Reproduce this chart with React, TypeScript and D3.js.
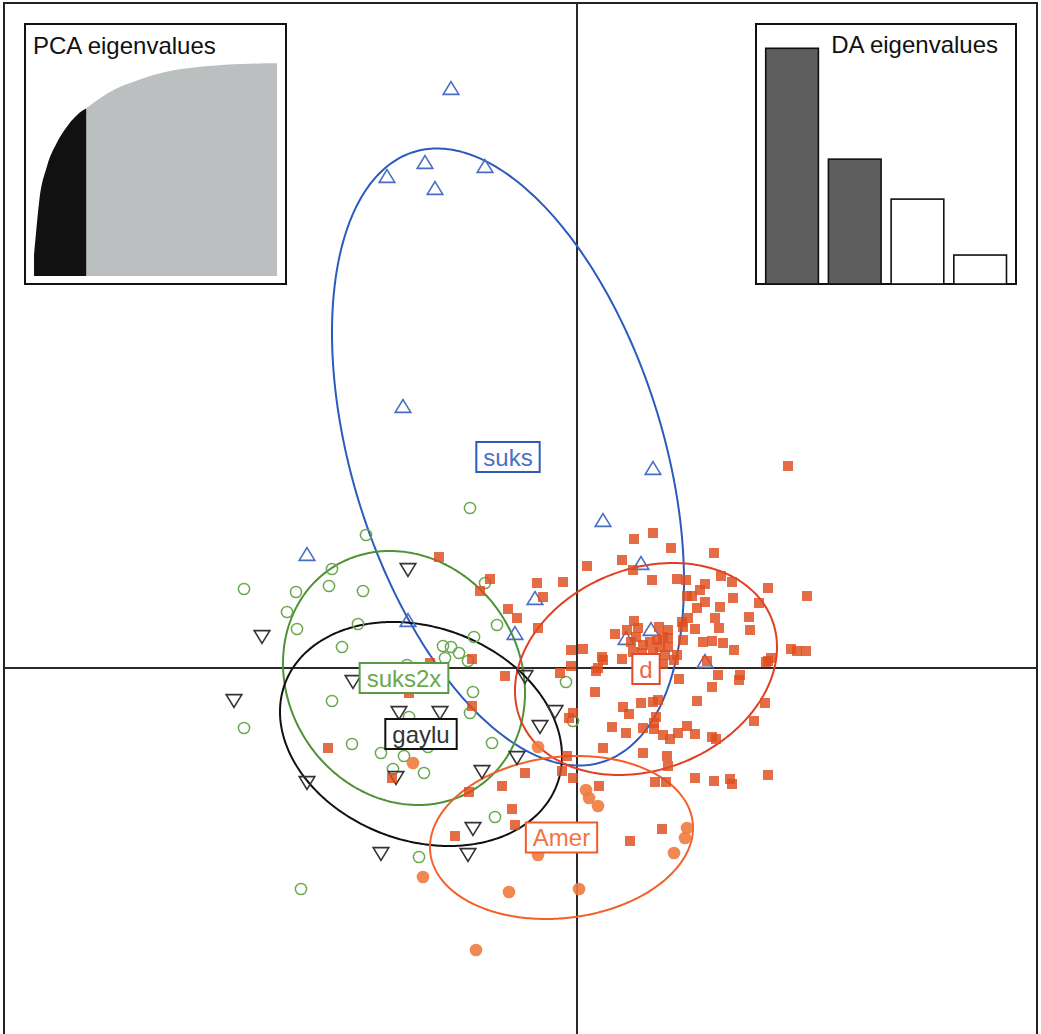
import React, { useEffect, useRef } from 'react';
import * as d3 from 'd3';

const W = 1041;
const H = 1034;

// Group names (in drawing order)
const groupNames = ['suks', 'suks2x', 'gaylu', 'd', 'Amer'];

// Individual scores on LD1 / LD2
const suksPts: [number, number][] = [
  [-1.26, 5.80], [-1.52, 5.06], [-0.92, 5.02], [-1.90, 4.92], [-1.42, 4.80],
  [-1.74, 2.62], [0.76, 2.00], [0.26, 1.48], [-2.70, 1.14], [0.64, 1.05],
  [-0.42, 0.70], [-1.69, 0.48], [-0.62, 0.35], [0.49, 0.30], [0.74, 0.39],
  [1.28, 0.07],
];

const gayluPts: [number, number][] = [
  [-1.69, 0.98], [-3.15, 0.31], [-2.24, -0.14], [-3.43, -0.33], [-0.52, -0.09],
  [-1.78, -0.45], [-1.37, -0.45], [-1.81, -1.10], [-2.70, -1.15], [-0.95, -1.04],
  [-0.60, -0.90], [-1.04, -1.61], [-1.96, -1.86], [-1.09, -1.87], [-0.22, -0.44],
  [-0.37, -0.59],
];

const suks2xPts: [number, number][] = [
  [-1.07, 1.60], [-2.11, 1.33], [-3.33, 0.79], [-2.81, 0.76], [-2.45, 0.99],
  [-2.48, 0.82], [-2.14, 0.77], [-2.90, 0.56], [-2.80, 0.39], [-2.19, 0.44],
  [-2.35, 0.21], [-0.92, 0.85], [-0.80, 0.43], [-1.03, 0.31], [-1.34, 0.22],
  [-1.26, 0.21], [-1.32, 0.10], [-1.18, 0.15], [-1.09, 0.07], [-1.70, 0.03],
  [-2.45, -0.33], [-1.04, -0.24], [-1.07, -0.45], [-1.68, -0.49], [-3.33, -0.60],
  [-2.25, -0.76], [-1.96, -0.85], [-1.73, -0.88], [-1.49, -0.79], [-1.84, -1.01],
  [-1.53, -1.05], [-0.85, -0.75], [-0.82, -1.49], [-1.58, -1.89], [-2.76, -2.21],
  [-0.11, -0.14], [-0.04, -0.53],
];

const amerPts: [number, number][] = [
  [-1.64, -0.95], [-1.54, -2.09], [-0.68, -2.24], [-1.01, -2.82], [-0.39, -0.79],
  [0.09, -1.22], [0.12, -1.30], [0.21, -1.38], [1.10, -1.60], [1.08, -1.70],
  [0.97, -1.85], [-0.39, -1.87], [0.02, -2.21],
];

const dPts: [number, number][] = [
  [2.11, 2.02], [0.76, 1.35], [0.57, 1.29], [0.94, 1.20], [1.37, 1.15],
  [0.45, 1.08], [0.10, 1.02], [0.56, 0.98], [0.75, 0.88], [1.00, 0.89],
  [1.09, 0.88], [1.44, 0.92], [1.28, 0.84], [1.23, 0.78], [1.55, 0.86],
  [1.91, 0.80], [2.30, 0.72], [-1.38, 1.11], [-0.87, 0.89], [-0.97, 0.77],
  [-0.40, 0.85], [-0.14, 0.86], [-0.34, 0.71], [-0.69, 0.59], [-0.60, 0.50],
  [-0.39, 0.40], [1.10, 0.72], [1.15, 0.72], [1.28, 0.66], [1.20, 0.60],
  [1.43, 0.61], [1.56, 0.70], [1.82, 0.65], [1.72, 0.51], [1.73, 0.38],
  [1.38, 0.50], [1.11, 0.50], [1.05, 0.46], [1.06, 0.41], [1.18, 0.39],
  [1.42, 0.40], [1.35, 0.27], [1.26, 0.26], [1.46, 0.25], [1.57, 0.18],
  [2.14, 0.19], [2.20, 0.17], [2.29, 0.17], [1.89, 0.06], [1.94, 0.10],
  [-0.06, 0.18], [0.06, 0.19], [-0.06, 0.02], [0.25, 0.11], [0.45, 0.09],
  [0.38, 0.34], [-1.05, 0.09], [-0.72, -0.08], [-1.47, 0.05], [-1.68, -0.25],
  [-1.05, -0.38],
  [0.50, 0.38], [0.57, 0.47], [0.61, 0.40], [0.59, 0.31], [0.54, 0.26],
  [0.66, 0.23], [0.82, 0.41], [0.91, 0.38], [0.86, 0.31], [0.80, 0.28],
  [0.91, 0.30], [0.73, 0.26], [0.83, 0.21], [0.91, 0.21], [0.76, 0.16],
  [0.65, 0.15], [0.56, 0.16], [0.88, 0.13], [0.97, 0.08], [1.06, 0.28],
  [1.00, 0.13], [0.21, 0.00],
  [-0.17, -0.05], [0.19, -0.03], [0.18, -0.24], [0.46, -0.39], [0.52, -0.46],
  [0.64, -0.35], [0.76, -0.34], [0.81, -0.32], [0.35, -0.59], [0.49, -0.65],
  [0.66, -0.60], [0.77, -0.55], [0.79, -0.49], [0.77, -0.61], [0.86, -0.67],
  [0.93, -0.71], [1.01, -0.65], [1.10, -0.58], [1.18, -0.66], [1.35, -0.69],
  [1.39, -0.71], [1.20, -0.33], [1.02, -0.11], [1.35, -0.19], [1.41, -0.07],
  [1.63, -0.07], [1.62, -0.12], [1.88, -0.35], [1.77, -0.53], [0.26, -0.80],
  [0.66, -0.85], [0.90, -0.88], [0.91, -0.98], [1.18, -1.10], [1.37, -1.13],
  [1.53, -1.11], [1.55, -1.16], [1.91, -1.07], [0.78, -1.14], [0.89, -1.14],
  [-0.04, -0.45], [-0.08, -0.50], [-0.10, -0.88], [-0.04, -1.10], [0.22, -1.18],
  [0.61, 0.05], [0.26, 0.08], [0.86, 0.04], [1.30, 0.07], [1.91, 0.07],
  [-0.15, -1.03], [-0.52, -1.05], [-0.75, -1.18], [-0.65, -1.41], [-0.62, -1.57],
  [0.85, -1.61], [0.53, -1.73], [-2.49, -0.80], [-1.85, -1.10], [-1.08, -1.24],
  [-1.22, -1.68],
];

// Group ellipses: centre, spread along LD1 / LD2 and correlation
const ellCx = [-0.69, -1.73, -1.56, 0.69, -0.155];
const ellCy = [2.11, -0.10, -0.66, -0.01, -1.695];
const ellSx = [1.76, 1.21, 1.41, 1.31, 1.315];
const ellSy = [3.085, 1.27, 1.12, 1.06, 0.815];
const ellR = [-0.403, -0.116, -0.199, 0.206, 0.118];

// PCA eigenvalues inset: cumulative variance (%) vs PC index
const pcaIdx = [0, 1.65, 4.4, 10.5, 18.7, 26.9, 40.6, 43, 54, 68, 82, 95.5, 109, 123, 137, 150, 164, 178, 200];
const pcaCum = [10, 20.2, 35.7, 51.3, 62.5, 70.0, 78.0, 78.8, 83.5, 88.2, 91.3, 94.0, 96.0, 97.4, 98.4, 99.0, 99.5, 99.8, 100];
const pcaRetained = 43;
const pcaTotal = 200;

// DA eigenvalues inset
const daEig = [236, 125, 85, 29];
const daRetained = 2;

const FONT = "'Liberation Sans', Arial, Helvetica, sans-serif";

export default function App() {
  const ref = useRef<SVGSVGElement | null>(null);

  useEffect(() => {
    const svg = d3.select(ref.current);
    svg.selectAll('*').remove();

    const x = d3.scaleLinear().domain([-5.73, 4.60]).range([4, 1037]);
    const y = d3.scaleLinear().domain([-3.72, 6.65]).range([1040, 3]);

    svg.append('rect').attr('width', W).attr('height', H).attr('fill', '#fff');

    // frame
    svg.append('rect')
      .attr('x', x(-5.73)).attr('y', y(6.65))
      .attr('width', x(4.60) - x(-5.73)).attr('height', y(-3.72) - y(6.65))
      .attr('fill', 'none').attr('stroke', '#222').attr('stroke-width', 2);

    // axes through origin
    svg.append('line').attr('x1', x(-5.73)).attr('x2', x(4.60)).attr('y1', y(0)).attr('y2', y(0))
      .attr('stroke', '#2a2a2a').attr('stroke-width', 2);
    svg.append('line').attr('x1', x(0)).attr('x2', x(0)).attr('y1', y(6.65)).attr('y2', y(-3.72))
      .attr('stroke', '#2a2a2a').attr('stroke-width', 2);

    const ellStroke = ['#2a5bbd', '#4f9236', '#111111', '#e23f22', '#f45f2a'];
    const labelText = ['#4a6ec4', '#6aa84f', '#333333', '#ea6a45', '#f2743f'];
    const labelBorder = ['#2d5cbf', '#5b9a45', '#111111', '#e2492c', '#f25a28'];

    // ellipses
    const line = d3.line<[number, number]>().x(d => x(d[0])).y(d => y(d[1])).curve(d3.curveLinearClosed);
    const eg = svg.append('g');
    groupNames.forEach((g, i) => {
      const pts: [number, number][] = d3.range(0, 360, 1).map(deg => {
        const t = (deg * Math.PI) / 180;
        const c = Math.cos(t), s = Math.sin(t);
        return [ellCx[i] + ellSx[i] * c, ellCy[i] + ellSy[i] * (ellR[i] * c + Math.sqrt(1 - ellR[i] * ellR[i]) * s)];
      });
      eg.append('path').attr('d', line(pts)).attr('fill', 'none')
        .attr('stroke', ellStroke[i]).attr('stroke-width', 2);
    });

    // points
    const pg = svg.append('g');
    const tri = (up: boolean) => {
      const hw = 7.8, hh = 6.4;
      return up ? `M0,${-hh}L${hw},${hh}L${-hw},${hh}Z` : `M0,${hh}L${hw},${-hh}L${-hw},${-hh}Z`;
    };
    pg.selectAll('path.suks').data(suksPts).enter().append('path')
      .attr('d', tri(true)).attr('transform', d => `translate(${x(d[0])},${y(d[1])})`)
      .attr('fill', 'none').attr('stroke', '#4a6ec4').attr('stroke-width', 1.6);
    pg.selectAll('circle.s2').data(suks2xPts).enter().append('circle')
      .attr('cx', d => x(d[0])).attr('cy', d => y(d[1])).attr('r', 5.6)
      .attr('fill', 'none').attr('stroke', '#6aa84f').attr('stroke-width', 1.5);
    pg.selectAll('path.gay').data(gayluPts).enter().append('path')
      .attr('d', tri(false)).attr('transform', d => `translate(${x(d[0])},${y(d[1])})`)
      .attr('fill', 'none').attr('stroke', '#333').attr('stroke-width', 1.6);
    pg.selectAll('rect.d').data(dPts).enter().append('rect')
      .attr('x', d => x(d[0]) - 5).attr('y', d => y(d[1]) - 5).attr('width', 10).attr('height', 10)
      .attr('fill', '#de4d1d').attr('fill-opacity', 0.82);
    pg.selectAll('circle.am').data(amerPts).enter().append('circle')
      .attr('cx', d => x(d[0])).attr('cy', d => y(d[1])).attr('r', 6.3)
      .attr('fill', '#f07a3e').attr('fill-opacity', 0.9);

    // labels
    const lg = svg.append('g');
    groupNames.forEach((g, i) => {
      const cx = x(ellCx[i]), cy = y(ellCy[i]);
      const gg = lg.append('g');
      const t = gg.append('text').attr('x', cx).attr('y', cy + 8.5)
        .attr('text-anchor', 'middle').style('font-family', FONT).style('font-size', '24px')
        .attr('fill', labelText[i]).text(g);
      const bb = (t.node() as SVGTextElement).getBBox();
      gg.insert('rect', 'text').attr('x', cx - bb.width / 2 - 7).attr('y', cy - 15)
        .attr('width', bb.width + 14).attr('height', 30)
        .attr('fill', '#fff').attr('stroke', labelBorder[i]).attr('stroke-width', 2);
    });

    // PCA inset
    const pca = svg.append('g');
    pca.append('rect').attr('x', 25).attr('y', 24).attr('width', 261).attr('height', 260)
      .attr('fill', '#fff').attr('stroke', '#111').attr('stroke-width', 2);
    const px = d3.scaleLinear().domain([0, pcaTotal]).range([34, 277]);
    const py = d3.scaleLinear().domain([0, 100]).range([276, 63.3]);
    const pcaData = pcaIdx.map((v, i) => ({ i: v, c: pcaCum[i] }));
    const area = d3.area<{ i: number; c: number }>().x(d => px(d.i)).y0(py(0)).y1(d => py(d.c)).curve(d3.curveMonotoneX);
    pca.append('path').attr('d', area(pcaData.filter(d => d.i >= pcaRetained)) as string).attr('fill', '#bcbfc0');
    pca.append('path').attr('d', area(pcaData.filter(d => d.i <= pcaRetained)) as string).attr('fill', '#111');
    pca.append('text').attr('x', 33).attr('y', 54).style('font-family', FONT).style('font-size', '24px')
      .attr('fill', '#111').text('PCA eigenvalues');

    // DA inset
    const da = svg.append('g');
    da.append('rect').attr('x', 756).attr('y', 24).attr('width', 260).attr('height', 260)
      .attr('fill', '#fff').attr('stroke', '#111').attr('stroke-width', 2);
    const bx = d3.scaleBand<number>().domain(d3.range(daEig.length)).range([760.7, 1011.5]).paddingInner(0.16).paddingOuter(0.08);
    const by = d3.scaleLinear().domain([0, d3.max(daEig) as number]).range([284, 48.3]);
    da.selectAll('rect.bar').data(daEig).enter().append('rect')
      .attr('x', (d, i) => bx(i) as number).attr('width', bx.bandwidth())
      .attr('y', d => by(d)).attr('height', d => by(0) - by(d))
      .attr('fill', (d, i) => (i < daRetained ? '#5e5e5e' : '#fff'))
      .attr('stroke', '#111').attr('stroke-width', 1.6);
    da.append('text').attr('x', 998).attr('y', 53).attr('text-anchor', 'end')
      .style('font-family', FONT).style('font-size', '24px').attr('fill', '#111').text('DA eigenvalues');
  }, []);

  return (
    <svg ref={ref} width={W} height={H} style={{ position: 'absolute', left: 0, top: 0, display: 'block' }} />
  );
}
